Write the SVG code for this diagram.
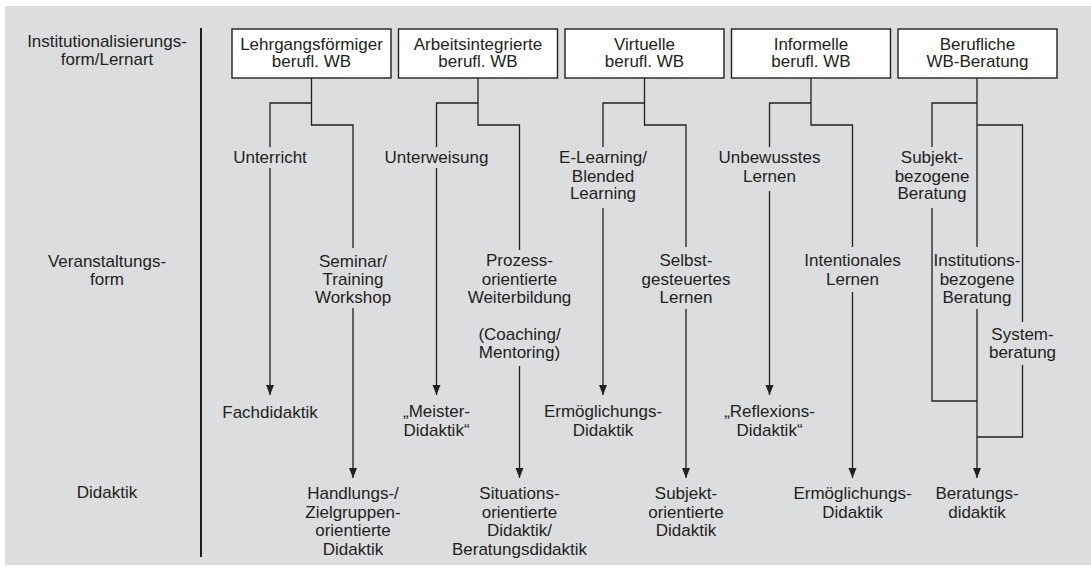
<svg xmlns="http://www.w3.org/2000/svg" width="1091" height="572" viewBox="0 0 1091 572">
<defs>
<style>
text{font-family:"Liberation Sans",Arial,sans-serif;font-size:17px;fill:#231f20;text-anchor:middle}
.box{fill:#fff;stroke:#231f20;stroke-width:1.4}
.ln{fill:none;stroke:#231f20;stroke-width:1.3}
.arr{fill:none;stroke:#231f20;stroke-width:1.3;marker-end:url(#ah)}
</style>
<marker id="ah" markerUnits="userSpaceOnUse" markerWidth="10" markerHeight="10" refX="10" refY="4" orient="auto" viewBox="0 0 10 8">
<path d="M0,0 L10,4 L0,8 z" fill="#231f20"/>
</marker>
</defs>
<rect x="5" y="6" width="1086" height="559" fill="#dcdddf"/>
<line x1="201" y1="28" x2="201" y2="557" stroke="#231f20" stroke-width="2"/>
<g id="row-labels">
<text x="107" y="47">Institutionalisierungs-</text>
<text x="107" y="65">form/Lernart</text>
<text x="107" y="267">Veranstaltungs-</text>
<text x="107" y="285">form</text>
<text x="107" y="498">Didaktik</text>
</g>
<g id="connectors">
<!-- box 1 -->
<path class="ln" d="M311.5,78 V125 H353 V248"/>
<path class="ln" d="M311.5,103 H270 V147"/>
<line class="arr" x1="270" y1="168" x2="270" y2="395"/>
<line class="arr" x1="353" y1="308" x2="353" y2="478"/>
<!-- box 2 -->
<path class="ln" d="M478,78 V125 H519.5 V250"/>
<path class="ln" d="M478,103 H436.5 V147"/>
<line class="arr" x1="436.5" y1="168" x2="436.5" y2="395"/>
<line class="arr" x1="519.5" y1="366" x2="519.5" y2="478"/>
<!-- box 3 -->
<path class="ln" d="M644.5,78 V125 H686 V247"/>
<path class="ln" d="M644.5,103 H603 V147"/>
<line class="arr" x1="603" y1="208" x2="603" y2="395"/>
<line class="arr" x1="686" y1="309" x2="686" y2="478"/>
<!-- box 4 -->
<path class="ln" d="M811,78 V125 H852.5 V247"/>
<path class="ln" d="M811,103 H769.5 V147"/>
<line class="arr" x1="769.5" y1="191" x2="769.5" y2="395"/>
<line class="arr" x1="852.5" y1="292" x2="852.5" y2="478"/>
<!-- box 5 -->
<path class="ln" d="M977,78 V247"/>
<path class="ln" d="M977,103 H932 V147"/>
<path class="ln" d="M977,125 H1022.5 V322"/>
<path class="ln" d="M932,208 V401 H977"/>
<path class="ln" d="M1022.5,365 V437 H977"/>
<line class="arr" x1="977" y1="309" x2="977" y2="478"/>
</g>
<g id="n-lehrgang">
<rect class="box" x="232" y="29" width="159" height="49"/>
<text x="311.5" y="50">Lehrgangsförmiger</text>
<text x="311.5" y="67">berufl. WB</text>
</g>
<g id="n-arbeit">
<rect class="box" x="398.5" y="29" width="159" height="49"/>
<text x="478" y="50">Arbeitsintegrierte</text>
<text x="478" y="67">berufl. WB</text>
</g>
<g id="n-virtuell">
<rect class="box" x="565" y="29" width="159" height="49"/>
<text x="644.5" y="50">Virtuelle</text>
<text x="644.5" y="67">berufl. WB</text>
</g>
<g id="n-informell">
<rect class="box" x="731.5" y="29" width="159" height="49"/>
<text x="811" y="50">Informelle</text>
<text x="811" y="67">berufl. WB</text>
</g>
<g id="n-beratung">
<rect class="box" x="898" y="29" width="159" height="49"/>
<text x="977.5" y="50">Berufliche</text>
<text x="977.5" y="67">WB-Beratung</text>
</g>
<g id="n-unterricht"><text x="270" y="163">Unterricht</text></g>
<g id="n-seminar"><text x="353" y="267">Seminar/</text><text x="353" y="285">Training</text><text x="353" y="303">Workshop</text></g>
<g id="n-fachdidaktik"><text x="270" y="418">Fachdidaktik</text></g>
<g id="n-handlung"><text x="353" y="499">Handlungs-/</text><text x="353" y="517.5">Zielgruppen-</text><text x="353" y="536">orientierte</text><text x="353" y="555">Didaktik</text></g>
<g id="n-unterweisung"><text x="436.5" y="163">Unterweisung</text></g>
<g id="n-prozess"><text x="519.5" y="266">Prozess-</text><text x="519.5" y="284.5">orientierte</text><text x="519.5" y="303">Weiterbildung</text><text x="519.5" y="340">(Coaching/</text><text x="519.5" y="358">Mentoring)</text></g>
<g id="n-meister"><text x="436.5" y="417">„Meister-</text><text x="436.5" y="436">Didaktik“</text></g>
<g id="n-situation"><text x="519.5" y="499">Situations-</text><text x="519.5" y="517.5">orientierte</text><text x="519.5" y="536">Didaktik/</text><text x="519.5" y="555">Beratungsdidaktik</text></g>
<g id="n-elearning"><text x="603" y="163">E-Learning/</text><text x="603" y="181.5">Blended</text><text x="603" y="199">Learning</text></g>
<g id="n-selbst"><text x="686" y="266">Selbst-</text><text x="686" y="284.5">gesteuertes</text><text x="686" y="303">Lernen</text></g>
<g id="n-ermoeg1"><text x="603" y="417">Ermöglichungs-</text><text x="603" y="436">Didaktik</text></g>
<g id="n-subjektdid"><text x="686" y="499">Subjekt-</text><text x="686" y="517.5">orientierte</text><text x="686" y="536">Didaktik</text></g>
<g id="n-unbewusst"><text x="769.5" y="163">Unbewusstes</text><text x="769.5" y="181.5">Lernen</text></g>
<g id="n-intentional"><text x="852.5" y="266">Intentionales</text><text x="852.5" y="284.5">Lernen</text></g>
<g id="n-reflexion"><text x="769.5" y="417">„Reflexions-</text><text x="769.5" y="436">Didaktik“</text></g>
<g id="n-ermoeg2"><text x="852.5" y="499">Ermöglichungs-</text><text x="852.5" y="517.5">Didaktik</text></g>
<g id="n-subjektber"><text x="932" y="163">Subjekt-</text><text x="932" y="181.5">bezogene</text><text x="932" y="199">Beratung</text></g>
<g id="n-institution"><text x="977" y="266">Institutions-</text><text x="977" y="284.5">bezogene</text><text x="977" y="303">Beratung</text></g>
<g id="n-system"><text x="1022.5" y="340">System-</text><text x="1022.5" y="358">beratung</text></g>
<g id="n-beratungsdid"><text x="977" y="499">Beratungs-</text><text x="977" y="517.5">didaktik</text></g>
</svg>
